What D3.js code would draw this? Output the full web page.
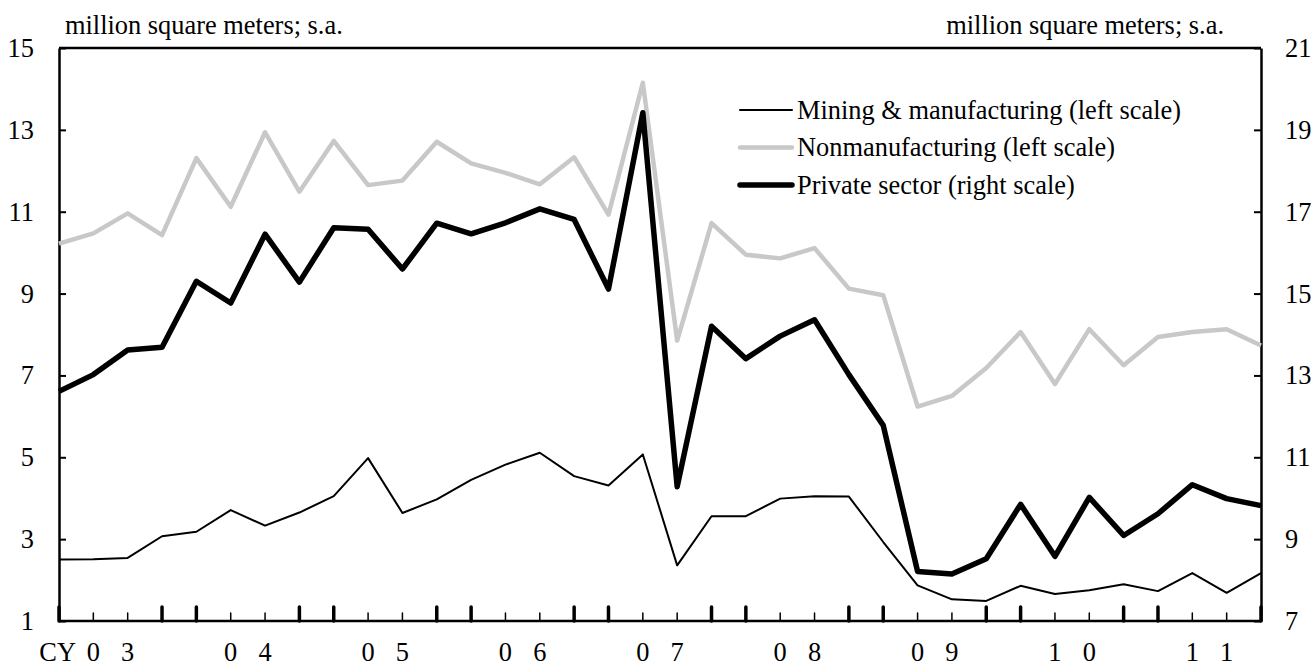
<!DOCTYPE html>
<html>
<head>
  <title>Building starts</title>
  <script src="https://d3js.org/d3.v7.min.js"></script>
  <style>
    body { margin: 0; background: #fff; }
    text { font-family: "Liberation Serif", "Times New Roman", serif; fill: #000; }
  </style>
</head>
<body>
<script type="text/javascript">

// ****** DATA ******

  // quarterly, CY2003 Q1 to CY2011 Q4
  var years = ["03", "04", "05", "06", "07", "08", "09", "10", "11"];
  var quarters = years.flatMap(function (y) { return [y + "Q1", y + "Q2", y + "Q3", y + "Q4"]; });

  // left scale, million square meters
  var mining = [2.50, 2.51, 2.54, 3.07, 3.18, 3.71, 3.33, 3.65, 4.05, 4.98, 3.64, 3.97,
                4.45, 4.82, 5.11, 4.54, 4.31, 5.07, 2.36, 3.56, 3.56, 3.99, 4.05, 4.04,
                2.93, 1.87, 1.53, 1.49, 1.86, 1.66, 1.75, 1.90, 1.73, 2.17, 1.69, 2.17];
  var nonmanufacturing = [10.22, 10.47, 10.96, 10.43, 12.31, 11.12, 12.94, 11.49, 12.73, 11.65, 11.76, 12.71,
                          12.18, 11.95, 11.67, 12.33, 10.93, 14.15, 7.85, 10.72, 9.95, 9.86, 10.11, 9.12,
                          8.96, 6.24, 6.50, 7.18, 8.06, 6.79, 8.13, 7.25, 7.94, 8.06, 8.13, 7.73];
  // right scale
  var privateSector = [12.61, 13.02, 13.62, 13.69, 15.30, 14.77, 16.45, 15.28, 16.61, 16.57, 15.60, 16.72,
                       16.46, 16.73, 17.07, 16.81, 15.11, 19.42, 10.28, 14.20, 13.41, 13.96, 14.36, 13.02,
                       11.78, 8.21, 8.15, 8.52, 9.85, 8.58, 10.02, 9.09, 9.62, 10.33, 9.99, 9.82];

  var leftTicks = [1, 3, 5, 7, 9, 11, 13, 15];
  var rightTicks = [7, 9, 11, 13, 15, 17, 19, 21];
  var unitLabel = "million square meters; s.a.";
  var legendNames = ["Mining & manufacturing (left scale)", "Nonmanufacturing (left scale)", "Private sector (right scale)"];

// ****** SIZES ******

  var width = 1315,
      height = 666,
      plotLeft = 59, plotRight = 1261,
      plotTop = 48, plotBottom = 621,
      fontSize = "26.4px";

  var x = d3.scalePoint().domain(quarters).range([plotLeft, plotRight]);
  var yLeft = d3.scaleLinear().domain([1, 15]).range([plotBottom, plotTop]);
  var yRight = d3.scaleLinear().domain([7, 21]).range([plotBottom, plotTop]);

// ****** CREATE ELEMENTS ******

  var svg = d3.select("body")
    .append("svg")
    .attr("width", width)
    .attr("height", height);

  svg.append("rect").attr("width", width).attr("height", height).attr("fill", "#fff");

  // unit labels
  svg.append("text").attr("x", 65).attr("y", 34).style("font-size", fontSize).text(unitLabel);
  svg.append("text").attr("x", 1224).attr("y", 34).attr("text-anchor", "end").style("font-size", fontSize).text(unitLabel);

  // left and right axes, ticks point inwards
  var leftAxis = svg.append("g")
    .attr("transform", "translate(" + plotLeft + ",0)")
    .call(d3.axisLeft(yLeft).tickValues(leftTicks).tickSizeInner(-7).tickSizeOuter(0).tickPadding(25));

  var rightAxis = svg.append("g")
    .attr("transform", "translate(" + plotRight + ",0)")
    .call(d3.axisRight(yRight).tickValues(rightTicks).tickSizeInner(-7).tickSizeOuter(0).tickPadding(24));

  [leftAxis, rightAxis].forEach(function (g) {
    g.selectAll("text").style("font-family", "Liberation Serif").style("font-size", fontSize);
    g.selectAll("line").attr("stroke", "#000").attr("stroke-width", 2);
    g.select(".domain").attr("stroke", "#000").attr("stroke-width", 2.5);
  });

  // top border
  svg.append("line")
    .attr("x1", plotLeft).attr("x2", plotRight)
    .attr("y1", plotTop).attr("y2", plotTop)
    .attr("stroke", "#000").attr("stroke-width", 2.5);

  // bottom axis: thick ticks at Q1 and Q4, thin ones between
  svg.selectAll(".qtick")
    .data(quarters)
    .enter()
    .append("line")
    .attr("class", "qtick")
    .attr("x1", function (d) { return x(d); })
    .attr("x2", function (d) { return x(d); })
    .attr("y1", plotBottom)
    .attr("y2", function (d) { return /Q[14]/.test(d) ? plotBottom - 14 : plotBottom - 8; })
    .attr("stroke", "#000")
    .attr("stroke-linecap", "round")
    .attr("stroke-width", function (d) { return /Q[14]/.test(d) ? 3.5 : 1.5; });

  svg.append("line")
    .attr("x1", plotLeft).attr("x2", plotRight)
    .attr("y1", plotBottom).attr("y2", plotBottom)
    .attr("stroke", "#000").attr("stroke-width", 2.5);

  // year labels: one digit under Q2, one under Q3
  years.forEach(function (y) {
    svg.append("text").attr("x", x(y + "Q2")).attr("y", 661).attr("text-anchor", "middle")
      .style("font-size", fontSize).text(y.charAt(0));
    svg.append("text").attr("x", x(y + "Q3")).attr("y", 661).attr("text-anchor", "middle")
      .style("font-size", fontSize).text(y.charAt(1));
  });
  svg.append("text").attr("x", 76).attr("y", 661).attr("text-anchor", "end").style("font-size", fontSize).text("CY");

// ****** LINES ******

  var lineLeft = d3.line()
    .x(function (d, i) { return x(quarters[i]); })
    .y(function (d) { return yLeft(d); });
  var lineRight = d3.line()
    .x(function (d, i) { return x(quarters[i]); })
    .y(function (d) { return yRight(d); });

  var styles = [
    { color: "#000", w: 2 },
    { color: "#c8c8c8", w: 4.5 },
    { color: "#000", w: 5.5 }
  ];

  svg.append("path").datum(nonmanufacturing).attr("d", lineLeft)
    .attr("fill", "none").attr("stroke", styles[1].color).attr("stroke-width", styles[1].w).attr("stroke-linejoin", "round");
  svg.append("path").datum(mining).attr("d", lineLeft)
    .attr("fill", "none").attr("stroke", styles[0].color).attr("stroke-width", styles[0].w).attr("stroke-linejoin", "round");
  svg.append("path").datum(privateSector).attr("d", lineRight)
    .attr("fill", "none").attr("stroke", styles[2].color).attr("stroke-width", styles[2].w).attr("stroke-linejoin", "round");

// ****** LEGEND ******

  var legend = svg.selectAll(".legend")
    .data(legendNames)
    .enter()
    .append("g")
    .attr("class", "legend")
    .attr("transform", function (d, i) { return "translate(740," + (110 + i * 37.5) + ")"; });

  legend.append("line")
    .attr("x1", 0).attr("x2", 52)
    .attr("stroke", function (d, i) { return styles[i].color; })
    .attr("stroke-width", function (d, i) { return styles[i].w; })
    .attr("stroke-linecap", "round");

  legend.append("text")
    .attr("x", 57)
    .attr("dy", "0.33em")
    .style("font-size", fontSize)
    .text(function (d) { return d; });

</script>
</body>
</html>
